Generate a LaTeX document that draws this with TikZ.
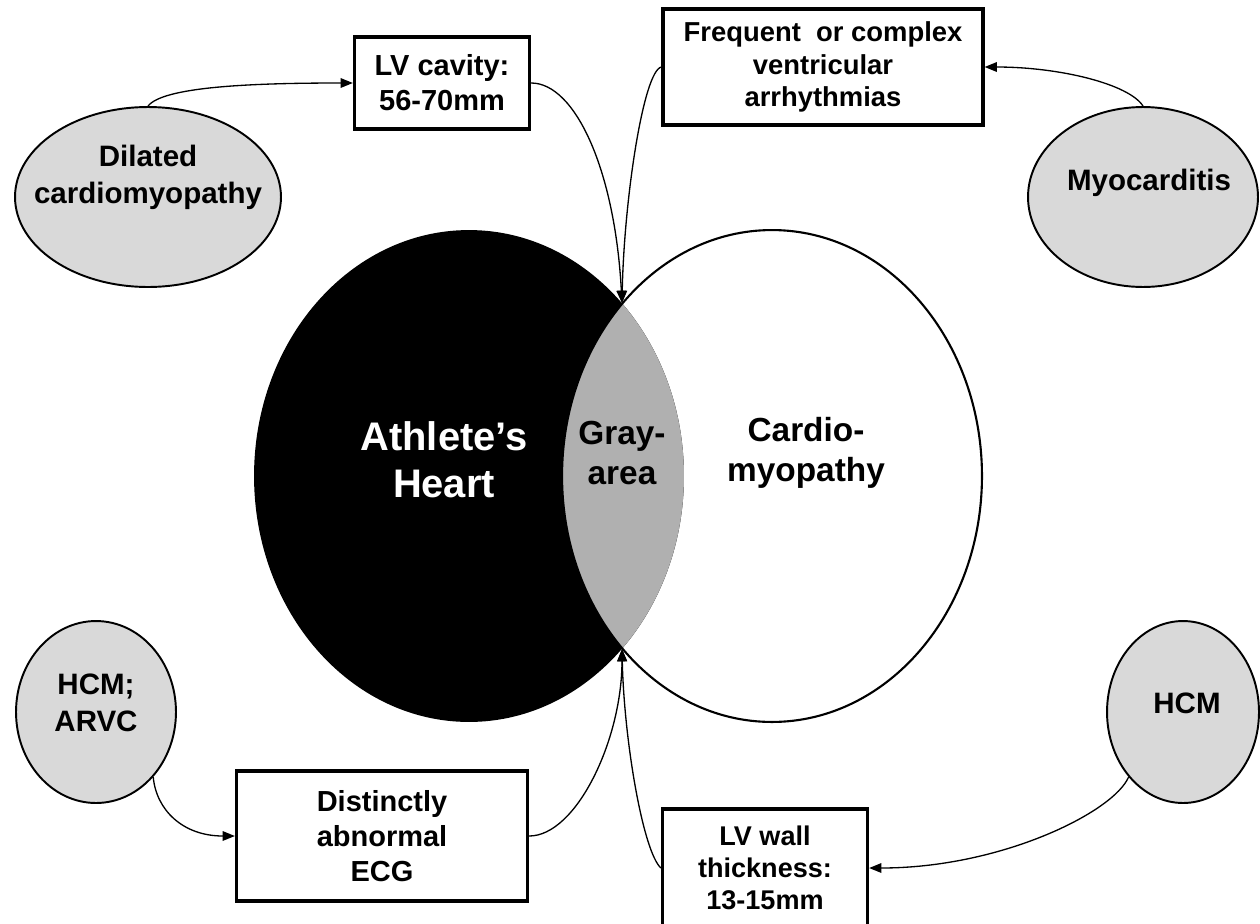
\documentclass[tikz,border=0pt]{standalone}
\usepackage{fontspec}
\setmainfont{Liberation Sans}
\usetikzlibrary{arrows.meta,shapes.geometric}

\definecolor{diseasegray}{RGB}{217,217,217}
\definecolor{zonegray}{RGB}{176,176,176}

\tikzset{
  finding/.style={draw, line width=1.9pt, fill=white, align=center, inner sep=0pt,
    font=\bfseries\fontsize{16.5pt}{19.8pt}\selectfont},
  disease/.style={draw, ellipse, line width=1.1pt, fill=diseasegray, inner sep=0pt},
  disease text/.style={align=center, font=\bfseries\fontsize{16.8pt}{21pt}\selectfont},
  set text/.style={align=center, font=\bfseries\fontsize{19pt}{22.7pt}\selectfont},
  link/.style={line width=0.75pt, -{Triangle[length=7pt,width=5.5pt]}},
}

\begin{document}
\begin{tikzpicture}[x=0.02cm,y=-0.02cm]
\useasboundingbox (0,0) rectangle (1260,923);

% athlete's heart, cardiomyopathy and the overlap
\fill[black] (469,476) ellipse [x radius=4.3cm, y radius=4.92cm];
\begin{scope}
\clip (469,476) ellipse [x radius=4.3cm, y radius=4.92cm];
\fill[zonegray] (772,476) ellipse [x radius=4.2cm, y radius=4.92cm];
\end{scope}
\draw[line width=1.2pt] (772,476) ellipse [x radius=4.2cm, y radius=4.92cm];

\coordinate (zonetop) at (622,303);
\coordinate (zonebot) at (622,649);

\node [set text, text=white, font=\bfseries\fontsize{22.7pt}{26.6pt}\selectfont] (athlete) at (444,460) {Athlete’s\\Heart};
\node [set text] (zone) at (622,453) {Gray-\\area};
\node [set text] (cardio) at (806,453) {Cardio-\\myopathy};

% findings
\node [finding, minimum width=3.5cm, minimum height=1.84cm] (cavity) at (442,83) {LV cavity:\\56-70mm};
\node [finding, minimum width=6.4cm, minimum height=2.32cm, font=\bfseries\fontsize{15.6pt}{18.7pt}\selectfont] (arrhythmia) at (823,67) {Frequent~ or complex\\ventricular\\arrhythmias};
\node [finding, minimum width=5.82cm, minimum height=2.6cm] (ecg) at (382,836) {Distinctly\\abnormal\\ECG};
\node [finding, minimum width=4.1cm, minimum height=2.36cm, font=\bfseries\fontsize{15.4pt}{18.4pt}\selectfont] (wall) at (765,868) {LV wall\\thickness:\\13-15mm};

% diseases
\node [disease, minimum width=5.32cm, minimum height=3.6cm] (dcm) at (148,197) {};
\node [disease text] (dcmtext) at ([yshift=0.4cm]dcm.center) {Dilated\\cardiomyopathy};
\node [disease, minimum width=4.6cm, minimum height=3.6cm] (myo) at (1143,197) {};
\node [disease text] (myotext) at ([xshift=0.12cm,yshift=0.28cm]myo.center) {Myocarditis};
\node [disease, minimum width=3.2cm, minimum height=3.64cm] (arvc) at (96,712) {};
\node [disease text] (arvctext) at ([yshift=0.18cm]arvc.center) {HCM;\\ARVC};
\node [disease, minimum width=3.04cm, minimum height=3.64cm] (hcm) at (1183,712) {};
\node [disease text] (hcmtext) at ([xshift=0.08cm,yshift=0.18cm]hcm.center) {HCM};

% connectors
\draw[link] (dcm.north) .. controls +(15,-19) and +(-105,0) .. (cavity.west);
\draw[link] (cavity.east) .. controls +(44,0) and +(-7,-133) .. (zonetop);
\draw[link] (arrhythmia.west) .. controls +(-18,4) and +(2,-103) .. (zonetop);
\draw[link] (myo.north) .. controls +(-14,-22) and +(75,0) .. (arrhythmia.east);
\draw[link] (arvc.south east) .. controls +(3,33) and +(-52,0) .. (ecg.west);
\draw[link] (ecg.east) .. controls +(47,0) and +(0,91) .. (zonebot);
\draw[link] (wall.west) .. controls +(-18,-17) and +(2,91) .. (zonebot);
\draw[link] (hcm.south west) .. controls +(-15,35) and +(132,0) .. (wall.east);
\end{tikzpicture}
\end{document}
